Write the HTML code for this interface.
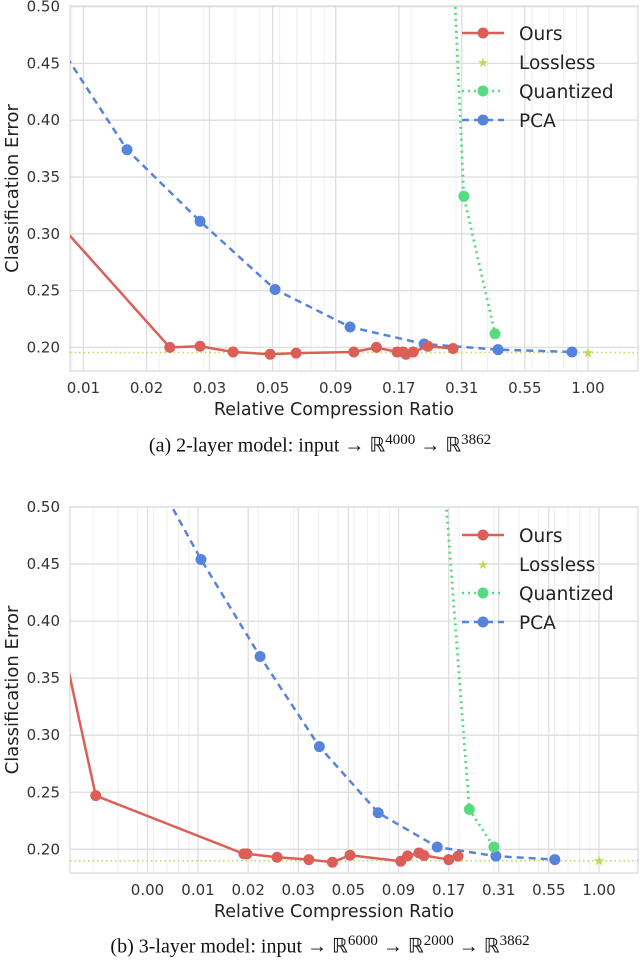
<!DOCTYPE html>
<html><head><meta charset="utf-8">
<style>
html,body{margin:0;padding:0;background:#fff;}
body{width:640px;height:963px;position:relative;overflow:hidden;}
svg{position:absolute;left:0;top:0;}
.cap{position:absolute;left:0;width:640px;text-align:center;font-family:"Liberation Serif",serif;font-size:20px;color:#111;white-space:nowrap;}
.cap sup{font-size:15px;}
</style></head>
<body>
<svg id="chart" width="640" height="963" xmlns="http://www.w3.org/2000/svg"></svg>
<div class="cap" style="top:432px">(a) 2-layer model: input → ℝ<sup>4000</sup> → ℝ<sup>3862</sup></div>
<div class="cap" style="top:933px">(b) 3-layer model: input → ℝ<sup>6000</sup> → ℝ<sup>2000</sup> → ℝ<sup>3862</sup></div>
<script>
// ---- data ----
const tickValsA = [0.01,0.0178,0.0316,0.0562,0.1,0.178,0.316,0.562,1.0];
const tickLabelsA = ["0.01","0.02","0.03","0.05","0.09","0.17","0.31","0.55","1.00"];
const tickValsB = [0.0056,0.01,0.0178,0.0316,0.0562,0.1,0.178,0.316,0.562,1.0];
const tickLabelsB = ["0.00","0.01","0.02","0.03","0.05","0.09","0.17","0.31","0.55","1.00"];
const yTicks = [0.20,0.25,0.30,0.35,0.40,0.45,0.50];
const yTickLabels = ["0.20","0.25","0.30","0.35","0.40","0.45","0.50"];

const oursAx = [0.00808,0.0220,0.0290,0.0392,0.0550,0.0697,0.118,0.145,0.175,0.185,0.190,0.203,0.232,0.292];
const oursAy = [0.308,0.200,0.201,0.196,0.194,0.195,0.196,0.200,0.196,0.196,0.194,0.196,0.201,0.199];
const pcaAx = [0.00764,0.01489,0.0290,0.0575,0.114,0.224,0.440,0.864];
const pcaAy = [0.473,0.374,0.311,0.251,0.218,0.203,0.198,0.196];
const quantAx = [0.284,0.322,0.428];
const quantAy = [0.600,0.333,0.212];
const losslessAx = [1.0];
const losslessAy = [0.1955];

const oursBx = [0.00205,0.00309,0.01695,0.01754,0.0248,0.0357,0.0468,0.0573,0.1026,0.111,0.1265,0.134,0.178,0.198];
const oursBy = [0.391,0.247,0.196,0.196,0.193,0.191,0.1887,0.1948,0.1895,0.1942,0.1968,0.1946,0.191,0.1939];
const pcaBx = [0.00576,0.01035,0.0204,0.0403,0.0792,0.156,0.306,0.602];
const pcaBy = [0.535,0.454,0.369,0.290,0.232,0.202,0.194,0.191];
const quantBx = [0.1648,0.2256,0.299];
const quantBy = [0.550,0.235,0.202];
const losslessBx = [1.0];
const losslessBy = [0.190];

const C_OURS="#db5f57", C_LOSS="#b9db57", C_QUANT="#57db80", C_PCA="#5784db";
const NS="http://www.w3.org/2000/svg";
const svg=document.getElementById('chart');
function mk(tag,attrs,parent){const e=document.createElementNS(NS,tag);for(const k in attrs)e.setAttribute(k,attrs[k]);(parent||svg).appendChild(e);return e;}

function panel(cfg){
  const {id,L,R,T,B,xAt,xPx,decPx,yTop,yPx,ticks,labels}=cfg;
  const sx=v=>xPx+Math.log10(v/xAt)*decPx;
  const sy=v=>yTop+(0.5-v)/0.05*yPx;
  const g=mk('g',{});
  
  
  const cp=mk('clipPath',{id:id+'clip'},g);mk('rect',{x:L,y:T,width:R-L,height:B-T},cp);
  for(let e=-4;e<=1;e++)for(let m=1;m<=9;m++){const v=m*Math.pow(10,e);const x=sx(v);if(x>L&&x<R){const l=mk('line',{x1:x,x2:x,y1:T,y2:B,stroke:'#efefef','stroke-width':1},g);}}
  ticks.forEach((v,i)=>{const x=sx(v);
    const l=mk('line',{x1:x,x2:x,y1:T,y2:B,stroke:'#dedede','stroke-width':1.3},g);
    
    const t=mk('text',{x:x,y:B+22,'text-anchor':'middle','font-size':15,fill:'#333','font-family':'DejaVu Sans, sans-serif'},g);t.textContent=labels[i];
    });
  yTicks.forEach((v,i)=>{const y=sy(v);
    const l=mk('line',{x1:L,x2:R,y1:y,y2:y,stroke:'#dedede','stroke-width':1.3},g);
    
    const t=mk('text',{x:L-10,y:y+5,'text-anchor':'end','font-size':15,fill:'#333','font-family':'DejaVu Sans, sans-serif'},g);t.textContent=yTickLabels[i];
    });
  const fr=mk('rect',{x:L,y:T,width:R-L,height:B-T,fill:'none',stroke:'#dcdcdc','stroke-width':1.3},g);
  
  const yt=mk('text',{x:0,y:0,transform:`translate(${L-52},${(T+B)/2}) rotate(-90)`,'text-anchor':'middle','font-size':18,fill:'#222','font-family':'DejaVu Sans, sans-serif'},g);yt.textContent='Classification Error';
  
  const xt=mk('text',{x:(L+R)/2-20,y:B+44,'text-anchor':'middle','font-size':17.5,fill:'#222','font-family':'DejaVu Sans, sans-serif'},g);xt.textContent='Relative Compression Ratio';
  
  const pg=mk('g',{'clip-path':`url(#${id}clip)`},g);
  function series(xs,ys,col,dash,name,w){
    const s=mk('g',{},pg);
    const p=mk('polyline',{points:xs.map((x,i)=>sx(x)+','+sy(ys[i])).join(' '),fill:'none',stroke:col,'stroke-width':w,'stroke-dasharray':dash},s);
    
    xs.forEach((x,i)=>{const c=mk('circle',{cx:sx(x),cy:sy(ys[i]),r:5.5,fill:col},s);});
  }
  const ly=sy(cfg.lossY[0]);
  const lsl=mk('line',{x1:L,x2:R,y1:ly,y2:ly,stroke:C_LOSS,'stroke-width':1.5,'stroke-dasharray':'1.5,3'},pg);
  
  series(cfg.pX,cfg.pY,C_PCA,'7,5','pca',2.5);
  series(cfg.qX,cfg.qY,C_QUANT,'2,4','quantized',2.8);
  series(cfg.oX,cfg.oY,C_OURS,'','ours',2.5);
  cfg.lossX.forEach((x,i)=>{const st=mk('text',{x:sx(x),y:sy(cfg.lossY[i])+5,'text-anchor':'middle','font-size':14,fill:C_LOSS},pg);st.textContent='★';});
  const lg=mk('g',{},g);
  const items=[['Ours',C_OURS,'','c'],['Lossless',C_LOSS,'','s'],['Quantized',C_QUANT,'2,4','c'],['PCA',C_PCA,'7,5','c']];
  items.forEach((it,i)=>{const y=cfg.legY+i*29;
    const e=mk('g',{},lg);
    if(it[3]==='c'){mk('line',{x1:462,x2:504,y1:y,y2:y,stroke:it[1],'stroke-width':2.6,'stroke-dasharray':it[2]},e);mk('circle',{cx:483,cy:y,r:5.5,fill:it[1]},e);}
    else{const s=mk('text',{x:483,y:y+5,'text-anchor':'middle','font-size':13,fill:it[1]},e);s.textContent='★';}
    const t=mk('text',{x:519,y:y+7,'font-size':18.5,fill:'#222','font-family':'DejaVu Sans, sans-serif'},e);t.textContent=it[0];});
}
panel({id:'a',L:70,R:638,T:6,B:371,xAt:0.01,xPx:83.4,decPx:252.3,yTop:6.6,yPx:56.8,ticks:tickValsA,labels:tickLabelsA,
  oX:oursAx,oY:oursAy,pX:pcaAx,pY:pcaAy,qX:quantAx,qY:quantAy,lossX:losslessAx,lossY:losslessAy,legY:33});
panel({id:'b',L:70,R:638,T:507,B:873,xAt:0.01,xPx:198,decPx:200.5,yTop:507,yPx:57.05,ticks:tickValsB,labels:tickLabelsB,
  oX:oursBx,oY:oursBy,pX:pcaBx,pY:pcaBy,qX:quantBx,qY:quantBy,lossX:losslessBx,lossY:losslessBy,legY:535});
</script>
</body></html>
